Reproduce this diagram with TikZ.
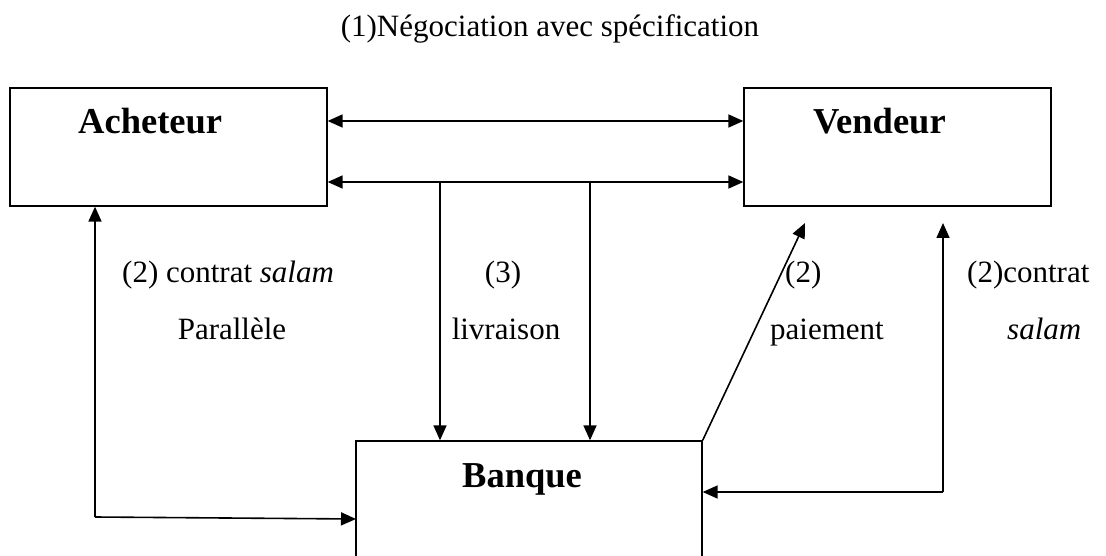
\documentclass[tikz,border=0pt]{standalone}
\usepackage{fontspec}
\setmainfont{Liberation Serif}
\usetikzlibrary{arrows.meta}
\begin{document}
\begin{tikzpicture}[x=1pt,y=-1pt,
  box/.style={draw, line width=1.3pt, inner sep=0pt},
  lbl/.style={inner sep=0pt, font=\fontsize{31}{37}\selectfont},
  boxlabel/.style={inner sep=0pt, font=\fontsize{36.5}{44}\selectfont\bfseries},
  arr/.style={line width=1.6pt, -{Triangle[length=15pt,width=13pt]}},
  darr/.style={line width=1.6pt, {Triangle[length=15pt,width=13pt]}-{Triangle[length=15pt,width=13pt]}}
]
\useasboundingbox (0,0) rectangle (1106,556);
\clip (0,0) rectangle (1106,556);
\fill[white] (0,0) rectangle (1106,556);

% boxes
\node[box, minimum width=317pt, minimum height=118pt] (acheteur) at (168.5,147) {};
\node[box, minimum width=307pt, minimum height=118pt] (vendeur) at (897.5,147) {};
\node[box, minimum width=346pt, minimum height=179pt] (banque) at (529,530.5) {};

% box labels
\node[boxlabel, anchor=base west] (lach) at (78,134) {Acheteur};
\node[boxlabel, anchor=base west] (lven) at (813,134) {Vendeur};
\node[boxlabel, anchor=base west] (lban) at (462,487) {Banque};

% title
\node[lbl, anchor=base] (title) at (550,37) {(1)Négociation avec spécification};

% labels
\node[lbl, anchor=base west] (t1) at (122,283) {(2) contrat \textit{salam}};
\node[lbl, anchor=base] (t2) at (232,339) {Parallèle};
\node[lbl, anchor=base] (t3) at (503,283) {(3)};
\node[lbl, anchor=base] (t4) at (506,339) {livraison};
\node[lbl, anchor=base west] (t5) at (785,283) {(2)};
\node[lbl, anchor=base west] (t6) at (770,339) {paiement};
\node[lbl, anchor=base west] (t7) at (967,283) {(2)contrat};
\node[lbl, anchor=base west] (t8) at (1007,339) {\textit{salam}};

% coordinates
\coordinate (j1) at (440,182);
\coordinate (j2) at (590,182);
\coordinate (paytip) at (805,223);
\coordinate (rc) at (943,492);
\coordinate (ctip) at (943,223);
\coordinate (lc) at (95,517);
\coordinate (lend) at (356,519);

% connectors
\draw[darr] (acheteur.east |- 0,121) -- (vendeur.west |- 0,121);
\draw[darr] (acheteur.east |- 0,182) -- (vendeur.west |- 0,182);
\draw[arr] (j1) -- (j1 |- banque.north);
\draw[arr] (j2) -- (j2 |- banque.north);
\draw[arr] (banque.north east) -- (paytip);
\draw[arr] (rc) -- (ctip);
\draw[arr] (rc) -- (rc -| banque.east);
\draw[arr] (lc) -- (lc |- acheteur.south);
\draw[arr] (lc) -- (lend);
\end{tikzpicture}
\end{document}
